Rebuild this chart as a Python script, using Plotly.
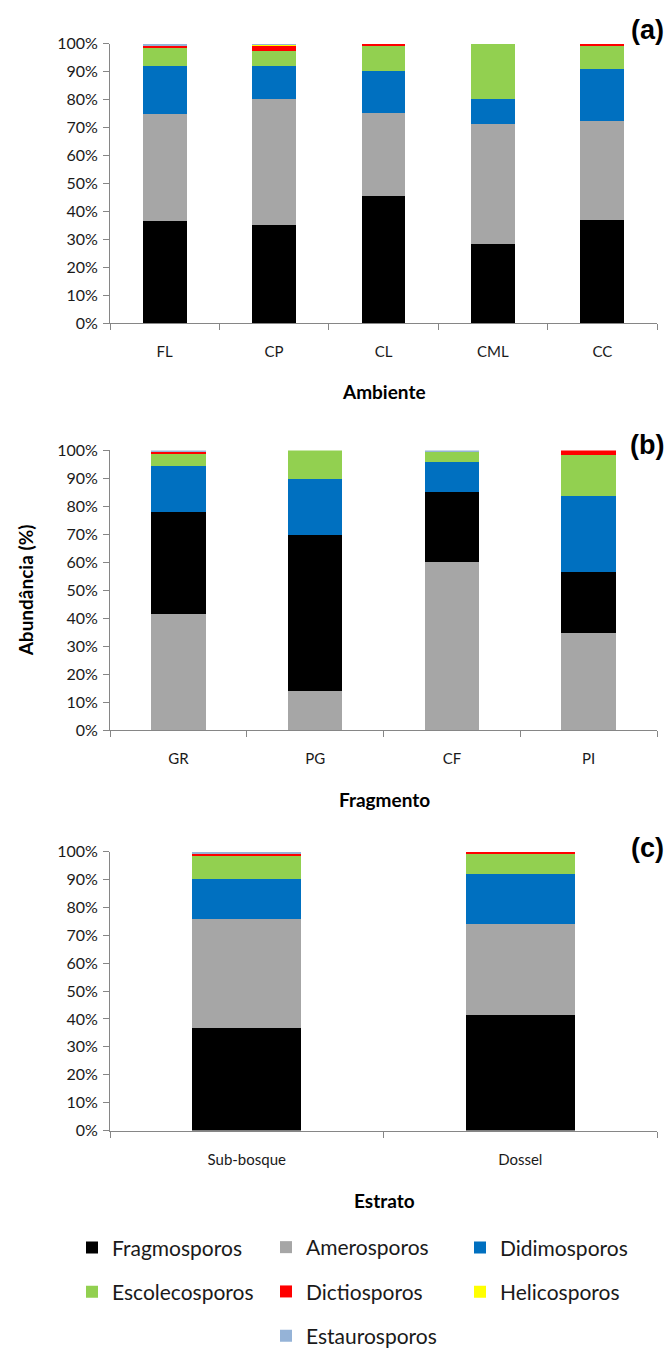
import plotly.graph_objects as go

# Spore morphology groups (stack order used in panels a and c)
series = ["Fragmosporos", "Amerosporos", "Didimosporos", "Escolecosporos",
          "Dictiosporos", "Helicosporos", "Estaurosporos"]
colors = ["#000000", "#A6A6A6", "#0070C0", "#92D050",
          "#FF0000", "#FFFF00", "#95B3D7"]

# (a) Ambiente
ambiente = ["FL", "CP", "CL", "CML", "CC"]
amb_fragmo = [36.4, 35.0, 45.5, 28.4, 37.1]
amb_amero = [38.4, 45.2, 29.7, 42.9, 35.1]
amb_didimo = [17.4, 11.7, 15.0, 8.9, 18.6]
amb_escol = [6.6, 5.4, 9.2, 19.8, 8.6]
amb_dictio = [0.6, 2.0, 0.6, 0.0, 0.6]
amb_helico = [0.0, 0.5, 0.0, 0.0, 0.0]
amb_estau = [0.6, 0.2, 0.0, 0.0, 0.0]

# (b) Fragmento
fragmento = ["GR", "PG", "CF", "PI"]
frag_fragmo = [36.4, 55.8, 25.2, 21.6]
frag_amero = [41.5, 14.0, 60.0, 34.9]
frag_didimo = [16.5, 20.1, 10.6, 27.2]
frag_escol = [4.4, 10.1, 3.6, 14.8]
frag_dictio = [0.6, 0.0, 0.0, 1.5]
frag_helico = [0.0, 0.0, 0.0, 0.0]
frag_estau = [0.6, 0.0, 0.6, 0.0]

# (c) Estrato
estrato = ["Sub-bosque", "Dossel"]
est_fragmo = [36.8, 41.4]
est_amero = [38.9, 32.8]
est_didimo = [14.6, 17.7]
est_escol = [8.5, 7.5]
est_dictio = [0.6, 0.6]
est_helico = [0.0, 0.0]
est_estau = [0.6, 0.0]

W, H = 669, 1356
FONT = "Lato"
AXIS_GRAY = "#868686"
TEXT = "#1a1a1a"


def px_x(p):
    return p / W


def px_y(p):
    return 1 - p / H


# legend column of each series (three columns, filled row by row)
legend_of = {
    "Fragmosporos": "legend", "Escolecosporos": "legend",
    "Amerosporos": "legend2", "Dictiosporos": "legend2", "Estaurosporos": "legend2",
    "Didimosporos": "legend3", "Helicosporos": "legend3",
}

panels = [
    ("x", "y", ambiente,
     [amb_fragmo, amb_amero, amb_didimo, amb_escol, amb_dictio, amb_helico, amb_estau],
     [0, 1, 2, 3, 4, 5, 6]),
    ("x2", "y2", fragmento,
     [frag_fragmo, frag_amero, frag_didimo, frag_escol, frag_dictio, frag_helico, frag_estau],
     [1, 0, 2, 3, 4, 5, 6]),  # gray stacked below black here
    ("x3", "y3", estrato,
     [est_fragmo, est_amero, est_didimo, est_escol, est_dictio, est_helico, est_estau],
     [0, 1, 2, 3, 4, 5, 6]),
]

fig = go.Figure()
for pi, (xa, ya, cats, vals, order) in enumerate(panels):
    for si in order:
        name = series[si]
        fig.add_trace(go.Bar(
            x=cats, y=vals[si], name=name,
            marker=dict(color=colors[si], line=dict(width=0)),
            xaxis=xa, yaxis=ya,
            legendgroup=name, legend=legend_of[name],
            showlegend=(pi == 0),
        ))

x_dom = [px_x(110), px_x(657)]
y_doms = [(320, 34.5), (736, 450), (1145, 860)]

axis_common = dict(
    showline=True, linecolor=AXIS_GRAY, linewidth=1,
    ticks="outside", ticklen=6, tickcolor=AXIS_GRAY, tickwidth=1,
    showgrid=False, zeroline=False, fixedrange=True,
)

layout = dict(
    width=W, height=H,
    margin=dict(l=0, r=0, t=0, b=0),
    paper_bgcolor="white", plot_bgcolor="white",
    barmode="stack", barnorm="percent", bargap=0.6,
    font=dict(family=FONT, color=TEXT),
)

for i, (bot, top) in enumerate(y_doms):
    sfx = "" if i == 0 else str(i + 1)
    layout["xaxis" + sfx] = dict(
        axis_common, domain=x_dom, anchor="y" + sfx,
        type="category", tickson="boundaries",
        tickfont=dict(size=15, family=FONT, color=TEXT),
        ticklabelstandoff=15,
    )
    layout["yaxis" + sfx] = dict(
        axis_common, domain=[px_y(bot), px_y(top)], anchor="x" + sfx,
        range=[0, 100], dtick=10, ticksuffix="%",
        tickfont=dict(size=16, family=FONT, color=TEXT),
        ticklabelstandoff=2,
    )

legend_common = dict(
    orientation="v", yanchor="top", xanchor="left",
    font=dict(size=21, family=FONT, color=TEXT),
    bgcolor="rgba(0,0,0,0)", borderwidth=0,
    tracegroupgap=14, itemclick=False, itemdoubleclick=False,
)
leg_top = px_y(1244)
layout["legend"] = dict(legend_common, x=px_x(72), y=leg_top)
layout["legend2"] = dict(legend_common, x=px_x(266), y=leg_top)
layout["legend3"] = dict(legend_common, x=px_x(460), y=leg_top)

annotations = []
for label, ycen in [("(a)", 20), ("(b)", 444), ("(c)", 856)]:
    annotations.append(dict(
        text="<b>%s</b>" % label, xref="paper", yref="paper",
        x=px_x(666), y=px_y(ycen), xanchor="right", yanchor="middle",
        showarrow=False, font=dict(size=27, family="Liberation Sans", color="#000"),
    ))
for title, ycen in [("Ambiente", 390), ("Fragmento", 807), ("Estrato", 1217)]:
    annotations.append(dict(
        text="<b>%s</b>" % title, xref="paper", yref="paper",
        x=px_x(384), y=px_y(ycen), xanchor="center", yanchor="middle",
        showarrow=False, font=dict(size=19, family=FONT, color="#000"),
    ))
annotations.append(dict(
    text="<b>Abundância (%)</b>", xref="paper", yref="paper",
    x=px_x(25), y=px_y(593), xanchor="center", yanchor="middle", textangle=-90,
    showarrow=False, font=dict(size=19, family=FONT, color="#000"),
))
layout["annotations"] = annotations

fig.update_layout(**layout)
fig.write_html("out.html")
